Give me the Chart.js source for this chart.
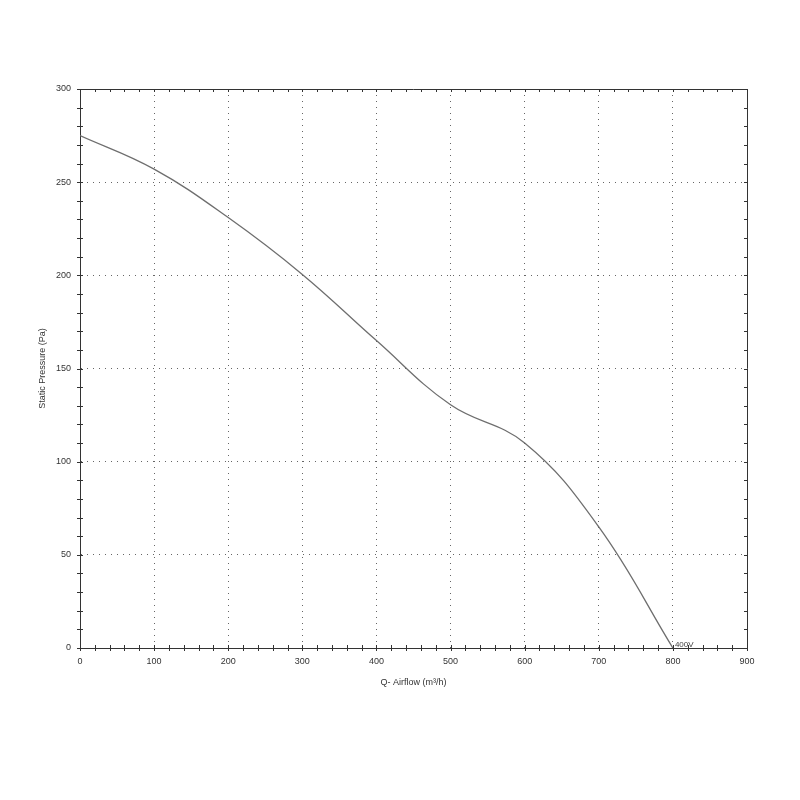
<!DOCTYPE html>
<html>
<head>
<meta charset="utf-8">
<script src="https://cdn.jsdelivr.net/npm/chart.js@4"></script>
<style>
  html, body { margin: 0; padding: 0; background: #fff; }
  #wrap { width: 800px; height: 800px; }
</style>
</head>
<body>
<div id="wrap"><canvas id="myChart" width="800" height="800"></canvas></div>
<script>
// values
let airflow = [0, 100, 200, 300, 400, 500, 600, 700, 800];
let pressure = [275, 257, 231, 200.5, 165, 130.5, 110, 65, 0];
let seriesName = "400V";
let xTitle = "Q- Airflow (m\u00b3/h)";
let yTitle = "Static Pressure (Pa)";

let points = airflow.map((x, i) => ({ x: x, y: pressure[i] }));
let font = { family: "Liberation Sans", size: 9 };

// minor ticks + top/right frame + curve label
let framePlugin = {
    id: "frame",
    afterDraw(chart) {
        let ctx = chart.ctx;
        let a = chart.chartArea;
        let xs = chart.scales.x;
        let ys = chart.scales.y;
        ctx.save();
        ctx.strokeStyle = "#333";
        ctx.lineWidth = 1;
        ctx.beginPath();
        ctx.moveTo(a.left, a.top + 0.5);
        ctx.lineTo(a.right + 0.5, a.top + 0.5);
        ctx.lineTo(a.right + 0.5, a.bottom);
        ctx.stroke();

        ctx.beginPath();
        for (let v = 0; v <= 900; v += 20) {
            let px = Math.round(xs.getPixelForValue(v)) + 0.5;
            ctx.moveTo(px, a.bottom - 3);
            ctx.lineTo(px, a.bottom + 3);
            ctx.moveTo(px, a.top);
            ctx.lineTo(px, a.top + 3);
        }
        for (let v = 0; v <= 300; v += 10) {
            let py = Math.round(ys.getPixelForValue(v)) + 0.5;
            ctx.moveTo(a.left - 3, py);
            ctx.lineTo(a.left + 3, py);
            ctx.moveTo(a.right - 3, py);
            ctx.lineTo(a.right, py);
        }
        ctx.stroke();

        let last = points[points.length - 1];
        ctx.fillStyle = "#444";
        ctx.font = "8px 'Liberation Sans'";
        ctx.textAlign = "left";
        ctx.textBaseline = "bottom";
        ctx.fillText(seriesName, xs.getPixelForValue(last.x) + 2, ys.getPixelForValue(last.y) + 1);
        ctx.restore();
    }
};

new Chart("myChart", {
    type: "line",
    data: {
        datasets: [{
            label: seriesName,
            data: points,
            borderColor: "#6e6e6e",
            borderWidth: 1.3,
            pointRadius: 0,
            tension: 0.4,
            fill: false
        }]
    },
    options: {
        responsive: false,
        animation: false,
        layout: { padding: { left: 37, top: 89, right: 53, bottom: 110 } },
        plugins: { legend: { display: false }, tooltip: { enabled: false } },
        scales: {
            x: {
                type: "linear",
                min: 0, max: 900,
                afterFit(scale) { scale.height = 42; },
                border: { display: true, color: "#333", width: 1, dash: [1, 5] },
                grid: {
                    drawTicks: false,
                    color: (c) => (c.tick.value === 0 || c.tick.value === 900) ? "rgba(0,0,0,0)" : "#666",
                    lineWidth: 1
                },
                ticks: { stepSize: 100, padding: 8, color: "#333", font: font, maxRotation: 0 },
                title: { display: true, text: xTitle, color: "#333", font: font, padding: { top: 0, bottom: 2 } }
            },
            y: {
                type: "linear",
                min: 0, max: 300,
                afterFit(scale) { scale.width = 43; },
                border: { display: true, color: "#333", width: 1, dash: [1, 5] },
                grid: {
                    drawTicks: false,
                    color: (c) => (c.tick.value === 0 || c.tick.value === 300) ? "rgba(0,0,0,0)" : "#666",
                    lineWidth: 1
                },
                ticks: { stepSize: 50, padding: 9, color: "#333", font: font },
                title: { display: true, text: yTitle, color: "#333", font: font, padding: { top: 0, bottom: 0 } }
            }
        }
    },
    plugins: [framePlugin]
});
</script>
</body>
</html>
